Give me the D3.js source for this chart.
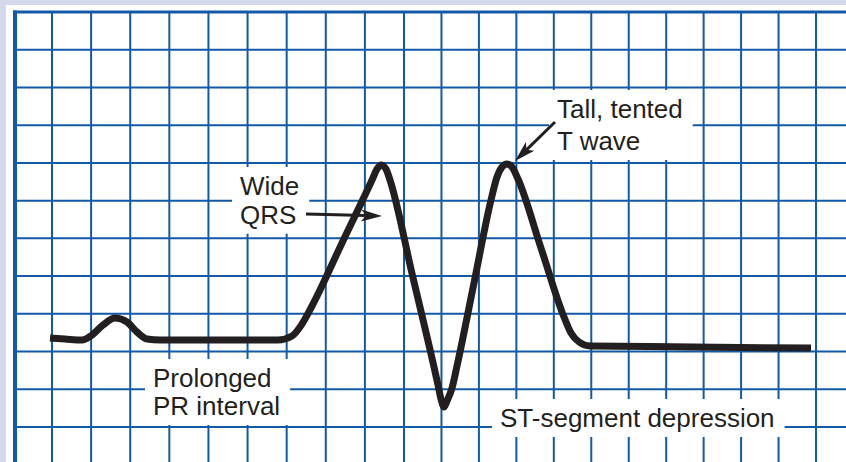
<!DOCTYPE html>
<html><head><meta charset="utf-8">
<script src="https://cdn.jsdelivr.net/npm/d3@7"></script>
<style>html,body{margin:0;padding:0;background:#d3d8eb;overflow:hidden}svg{display:block}</style>
</head><body>
<svg id="c" width="846" height="462"></svg>
<script>
// ECG trace, in large grid boxes
// (t: boxes from the left border line, v: boxes above the lowest full grid line)
const traceT = [0.946, 1.332, 1.767, 2.023, 2.304, 2.611, 2.918, 3.173, 3.429, 3.761, 5.296, 6.779,
  7.137, 7.392, 7.648, 8.415, 9.182, 9.310, 9.412, 9.540, 9.642, 10.214, 10.801, 10.908, 11.001, 11.068,
  11.148, 11.282, 11.415, 11.869, 12.323, 12.483, 12.617, 12.750, 12.884, 13.044, 13.658, 14.272,
  14.459, 14.673, 14.967, 16.569, 18.972, 20.868];
const traceV = [2.359, 2.332, 2.306, 2.438, 2.703, 2.889, 2.783, 2.518, 2.332, 2.306, 2.306, 2.306,
  2.412, 2.730, 3.207, 4.877, 6.546, 6.838, 6.944, 6.838, 6.546, 4.068, 1.590, 1.113, 0.689, 0.530,
  0.689, 1.034, 1.617, 3.817, 6.016, 6.626, 6.891, 6.971, 6.891, 6.573, 4.744, 2.915,
  2.491, 2.253, 2.147, 2.134, 2.107, 2.094];

// grid lines (box indices)
const gridCols = d3.range(0, 22);
const gridRows = d3.range(0, 12);

// annotation texts (anchor in boxes)
const labelGroups = [
  [{text: "Wide", t: 5.807, v: 6.149}, {text: "QRS", t: 5.807, v: 5.388}],
  [{text: "Tall, tented", t: 14.085, v: 8.190}, {text: "T wave", t: 14.085, v: 7.342}],
  [{text: "Prolonged", t: 3.582, v: 1.060}, {text: "PR interval", t: 3.582, v: 0.318}],
  [{text: "ST-segment depression", t: 12.563, v: 0.0}]
];
// arrows: from (t1,v1) to tip (t2,v2)
const arrows = [
  {t1: 7.494, v1: 5.645, t2: 9.438, v2: 5.592},
  {t1: 14.032, v1: 8.084, t2: 12.964, v2: 7.050}
];

const W = 846, H = 462;
const svg = d3.select("#c");
const x = d3.scaleLinear().domain([0, 1, 10, 21]).range([15, 52, 404, 816]);
const y = d3.scaleLinear().domain([0, 11]).range([427, 12]);
const gridColor = "#1259a6";
const ink = "#231f20";

// white paper
svg.append("rect").attr("x", 6).attr("y", 5).attr("width", W - 6).attr("height", H - 5).attr("fill", "#fff");

// grid
const g = svg.append("g");
g.selectAll("line.v").data(gridCols.filter(d => d > 0)).join("line")
  .attr("x1", d => x(d)).attr("x2", d => x(d))
  .attr("y1", y(11)).attr("y2", H)
  .attr("stroke", gridColor).attr("stroke-width", 2);
g.selectAll("line.h").data(gridRows.filter(d => d < 11)).join("line")
  .attr("x1", x(0)).attr("x2", W)
  .attr("y1", d => y(d)).attr("y2", d => y(d))
  .attr("stroke", gridColor).attr("stroke-width", 2);
// borders
g.append("line").attr("x1", x(0)).attr("x2", x(0)).attr("y1", y(11) - 1.5).attr("y2", H)
  .attr("stroke", gridColor).attr("stroke-width", 4);
g.append("line").attr("x1", x(0) - 2).attr("x2", W).attr("y1", y(11)).attr("y2", y(11))
  .attr("stroke", gridColor).attr("stroke-width", 3.2);

// labels with white backing
const lab = svg.append("g");
labelGroups.forEach(group => {
  const gg = lab.append("g");
  const bg = gg.append("rect").attr("fill", "#fff");
  const tx = gg.selectAll("text").data(group).join("text")
    .attr("x", d => x(d.t)).attr("y", d => y(d.v))
    .attr("font-family", "'Liberation Sans', Arial, Helvetica, sans-serif")
    .attr("font-size", 26).attr("fill", ink)
    .text(d => d.text);
  let x0 = Infinity, y0 = Infinity, x1 = -Infinity, y1 = -Infinity;
  tx.each(function () {
    const b = this.getBBox();
    x0 = Math.min(x0, b.x); y0 = Math.min(y0, b.y);
    x1 = Math.max(x1, b.x + b.width); y1 = Math.max(y1, b.y + b.height);
  });
  bg.attr("x", x0 - 8).attr("y", y0 - 4).attr("width", x1 - x0 + 18).attr("height", y1 - y0 + 8);
});

// ECG trace
const pts = traceT.map((t, i) => [x(t), y(traceV[i])]);
svg.append("path")
  .attr("d", d3.line().curve(d3.curveMonotoneX)(pts))
  .attr("fill", "none").attr("stroke", ink).attr("stroke-width", 7)
  .attr("stroke-linejoin", "round").attr("stroke-linecap", "butt");

// arrows
arrows.forEach(a => {
  const X1 = x(a.t1), Y1 = y(a.v1), X2 = x(a.t2), Y2 = y(a.v2);
  const ang = Math.atan2(Y2 - Y1, X2 - X1);
  const L = 21, hw = 6, notch = 5;
  const ux = Math.cos(ang), uy = Math.sin(ang), px = -uy, py = ux;
  const bx = X2 - ux * L, by = Y2 - uy * L;
  svg.append("line").attr("x1", X1).attr("y1", Y1)
    .attr("x2", X2 - ux * (L - notch)).attr("y2", Y2 - uy * (L - notch))
    .attr("stroke", ink).attr("stroke-width", 3);
  const head = [[X2, Y2], [bx + px * hw, by + py * hw], [bx + ux * notch, by + uy * notch], [bx - px * hw, by - py * hw]];
  svg.append("path").attr("d", "M" + head.map(p => p.join(",")).join("L") + "Z").attr("fill", ink);
});
</script>
</body></html>
